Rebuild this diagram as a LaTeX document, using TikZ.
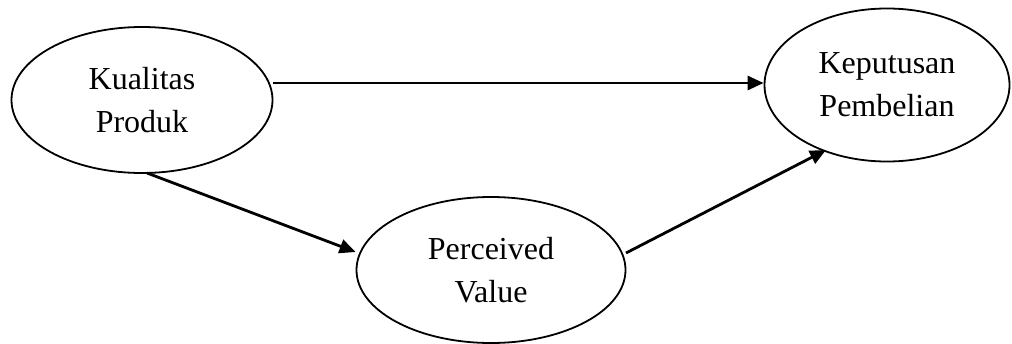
\documentclass[tikz,border=0pt]{standalone}
\usepackage{fontspec}
\setmainfont{Liberation Serif}
\usetikzlibrary{arrows.meta,shapes.geometric}
\begin{document}
\begin{tikzpicture}[x=1pt,y=-1pt,
  var/.style={draw,line width=1.8pt,ellipse,inner sep=0pt,align=center,
    font=\fontsize{32}{43}\selectfont},
  conn/.style={line width=2.8pt,-{Triangle[length=16pt,width=14pt]}}]
\useasboundingbox (0,0) rectangle (1012,343);
\node[var,minimum width=261pt,minimum height=146pt] (kp) at (142,100) {Kualitas\\Produk};
\node[var,minimum width=245pt,minimum height=153pt] (kb) at (887,85) {Keputusan\\Pembelian};
\node[var,minimum width=269pt,minimum height=146pt] (pv) at (491,270) {Perceived\\Value};
\draw[conn] (kp.east |- 0,83) -- (kb.west |- 0,83);
\draw[conn] (147,173) -- (pv.west |- 0,252);
\draw[conn] (626,253) -- (826,150);
\end{tikzpicture}
\end{document}
